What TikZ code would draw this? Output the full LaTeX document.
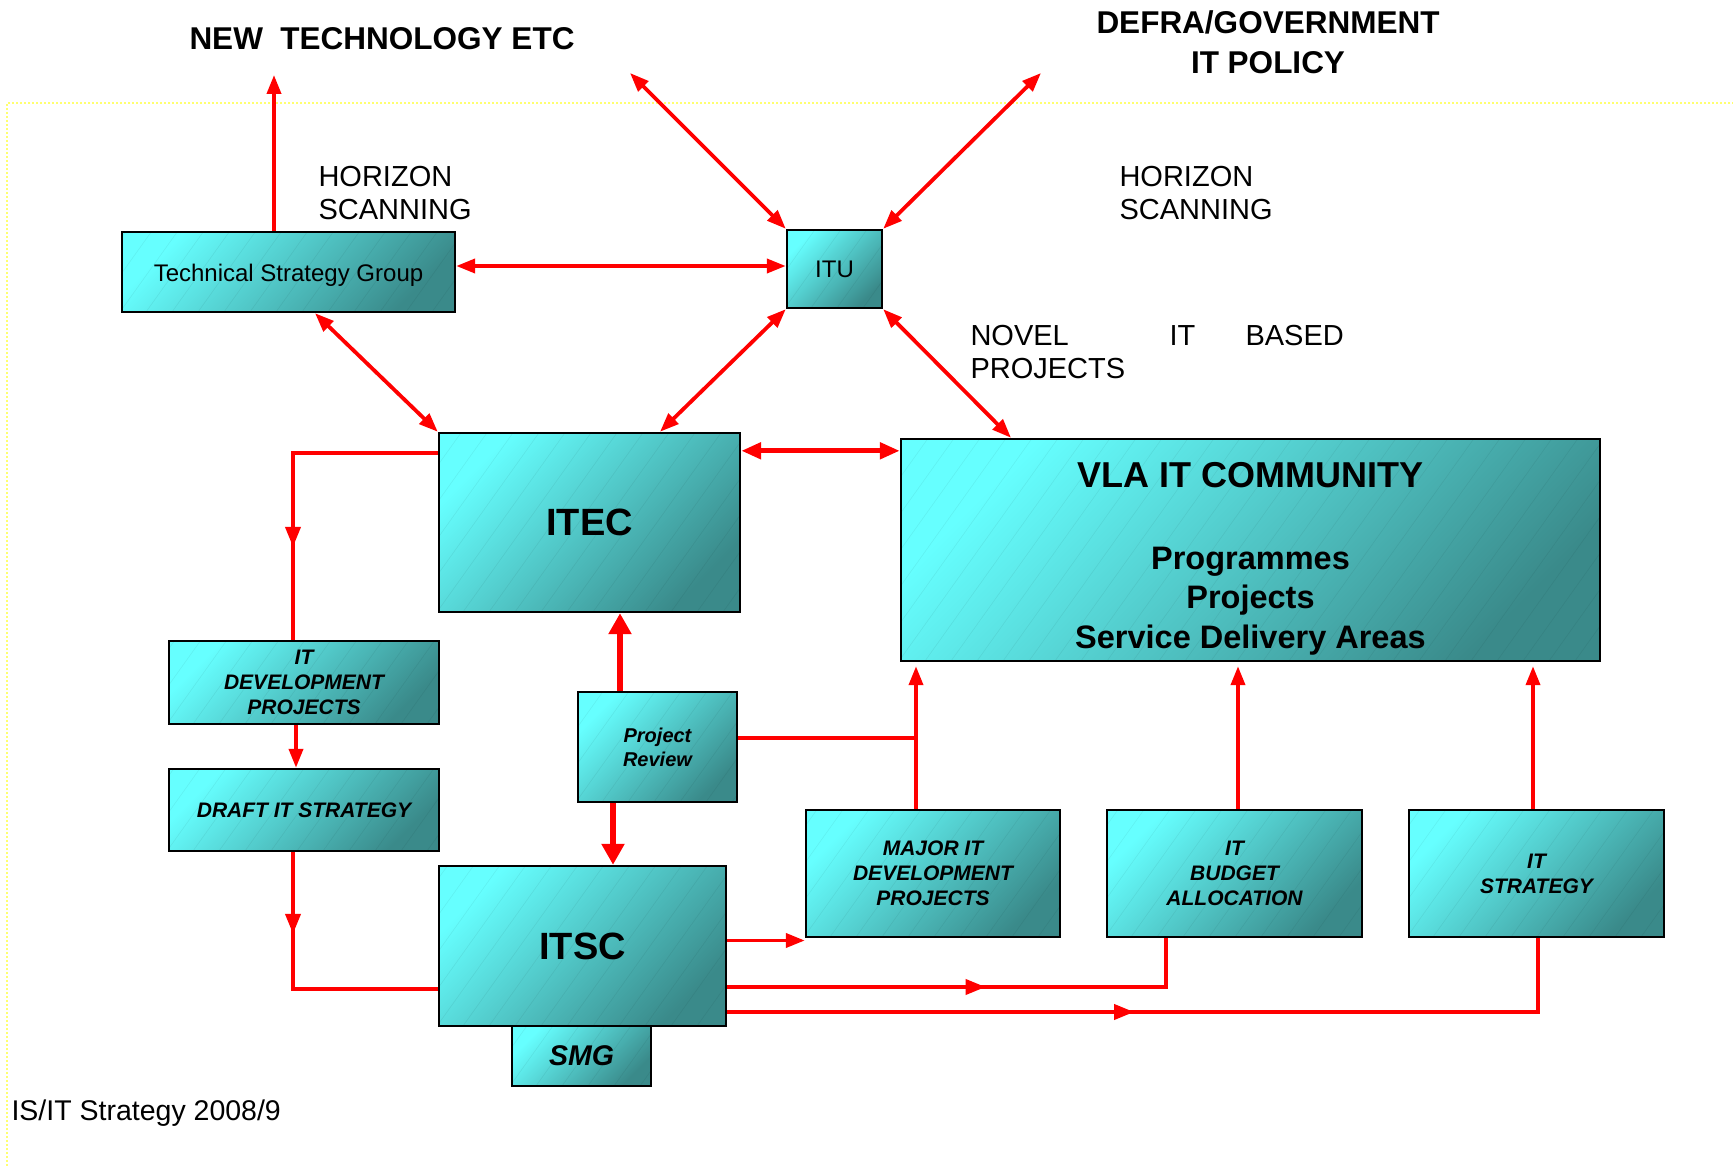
\documentclass[tikz,border=0pt]{standalone}
\usepackage{fontspec}
\setmainfont{Liberation Sans}
\usetikzlibrary{arrows.meta,decorations.markings,calc}
\definecolor{cyanlt}{HTML}{66FFFF}
\definecolor{tealdk}{HTML}{3A8A8A}
\definecolor{ylw}{HTML}{FFFF70}
\begin{document}
\begin{tikzpicture}[x=1pt,y=1pt,
  >={Triangle[length=19pt,width=14pt]},
  hatch/.style={path picture={
    \foreach \k in {0,1,...,60}{
      \draw[black, opacity=0.06, line width=0.6pt]
        ([xshift=\k*26pt-600pt]path picture bounding box.south west) -- ++(500pt,700pt);
    }}},
  box/.style={draw=black, line width=2.4pt, top color=cyanlt, bottom color=tealdk,
    shading angle=45, inner sep=0pt, align=center, hatch},
  bi/.style={font=\fontsize{21}{25}\selectfont\bfseries\itshape},
  big/.style={font=\fontsize{38}{44}\selectfont\bfseries},
  title/.style={font=\fontsize{31.5}{40}\selectfont\bfseries, align=center},
  plain/.style={font=\fontsize{29}{33}\selectfont, align=left},
  rl/.style={draw=red, color=red, line width=3.8pt},
  ra/.style={rl, ->},
  rda/.style={rl, <->},
  rmid/.style={draw=red, color=red, line width=5pt,
    {Triangle[length=20pt,width=16pt]}-{Triangle[length=20pt,width=16pt]}},
  rt/.style={draw=red, color=red, line width=6pt, -{Triangle[length=21pt,width=22pt]}},
  midarr/.style={postaction={decorate}, decoration={markings,
    mark=at position #1 with {\arrow{Triangle[length=20pt,width=15pt]}}}}
]
\useasboundingbox (0,0) rectangle (1733,-1166);
\fill[white] (0,0) rectangle (1733,-1166);

% yellow dotted frame
\draw[ylw, dotted, line width=2pt] (7,-1166) -- (7,-103) -- (1733,-103);

% free texts
\node[title] (newtech) at (382,-39) {NEW~~TECHNOLOGY ETC};
\node[title] (defra) at (1268,-42) {DEFRA/GOVERNMENT\\IT POLICY};
\node[plain, anchor=west] (hz1) at (315,-193.5) {HORIZON\\SCANNING};
\node[plain, anchor=west] (hz2) at (1116,-193.5) {HORIZON\\SCANNING};
\node[plain, anchor=west] (novel) at (967,-352.5)
  {\makebox[199pt][l]{NOVEL}\makebox[76pt][l]{IT}BASED\\PROJECTS};
\node[font=\fontsize{28.5}{33}\selectfont, anchor=west] (footer) at (8,-1113) {IS/IT Strategy 2008/9};

% boxes
\node[box, minimum width=333pt, minimum height=80pt, font=\fontsize{24}{29}\selectfont]
  (tsg) at (288.5,-272) {\raisebox{-9.6pt}[0pt][0pt]{Technical Strategy Group}};
\node[box, minimum width=95pt, minimum height=78pt, font=\fontsize{24}{29}\selectfont]
  (itu) at (834.5,-269) {ITU};
\node[box, big, minimum width=301pt, minimum height=179pt] (itec) at (589.5,-522.5) {ITEC};
\node[box, minimum width=699pt, minimum height=222pt] (vla) at (1250.5,-550) {};
\node[font=\fontsize{36}{40}\selectfont\bfseries] (vlatitle) at (1250.5,-475) {VLA IT COMMUNITY};
\node[font=\fontsize{32.5}{39.5}\selectfont\bfseries, align=center] (vlatxt) at (1250.5,-601)
  {Programmes\\Projects\\Service Delivery Areas};
\node[box, bi, minimum width=270pt, minimum height=83pt] (itdev) at (304,-682.5)
  {IT\\DEVELOPMENT\\PROJECTS};
\node[box, bi, minimum width=270pt, minimum height=82pt] (draft) at (304,-810)
  {DRAFT IT STRATEGY};
\node[box, font=\fontsize{20}{24}\selectfont\bfseries\itshape, minimum width=159pt, minimum height=110pt]
  (pr) at (657.5,-747) {Project\\Review};
\node[box, big, minimum width=287pt, minimum height=160pt] (itsc) at (582.5,-946) {ITSC};
\node[box, font=\fontsize{28.5}{33}\selectfont\bfseries\itshape, minimum width=139pt, minimum height=60pt]
  (smg) at (581.5,-1056) {SMG};
\node[box, bi, minimum width=254pt, minimum height=127pt] (major) at (933,-873.5)
  {MAJOR IT\\DEVELOPMENT\\PROJECTS};
\node[box, bi, minimum width=255pt, minimum height=127pt] (budget) at (1234.5,-873.5)
  {IT\\BUDGET\\ALLOCATION};
\node[box, bi, minimum width=255pt, minimum height=127pt] (strat) at (1536.5,-873.5)
  {IT\\STRATEGY};

% free ends
\coordinate (ntech) at (274,-75);
\coordinate (ntl) at (630,-73);
\coordinate (ntr) at (1041,-73);
\coordinate (mjtop) at ([xshift=-17pt]major.north);

% connectors
\draw[ra] (tsg.north -| ntech) -- (ntech);
\draw[rda] (itu.north west) -- (ntl);
\draw[rda] (itu.north east) -- (ntr);
\draw[rda] ([yshift=6pt]tsg.east) -- ([yshift=6pt]tsg.east -| itu.west);
\draw[rda] ([xshift=26.5pt]tsg.south) -- (itec.north west);
\draw[rda] (itu.south west) -- ([xshift=70.5pt]itec.north);
\draw[rda] (itu.south east) -- ([xshift=-239.5pt]vla.north);
\draw[rmid] ([yshift=-19pt]itec.north east) -- ([yshift=-19pt]itec.north east -| vla.west);

\draw[rl, midarr=0.72] ([yshift=-21pt]itec.north west) -| ([xshift=-11pt]itdev.north);
\draw[ra] ([xshift=-8pt]itdev.south) -- ([xshift=-8pt]draft.north);
\draw[rl, midarr=0.29] ([xshift=-11pt]draft.south) |- ([yshift=-43pt]itsc.west);

\draw[rt] ([xshift=-37.5pt]pr.north) -- ([xshift=-37.5pt]pr.north |- itec.south);
\draw[rt] ([xshift=-44.5pt]pr.south) -- ([xshift=-44.5pt]pr.south |- itsc.north);

\draw[rl] ([yshift=9pt]pr.east) -- ([yshift=9pt]pr.east -| mjtop);
\draw[ra, shorten >=4pt] (mjtop) -- (mjtop |- vla.south);
\draw[ra, shorten >=4pt] ([xshift=3.5pt]budget.north) -- ([xshift=3.5pt]budget.north |- vla.south);
\draw[ra, shorten >=4pt] ([xshift=-3.5pt]strat.north) -- ([xshift=-3.5pt]strat.north |- vla.south);

\draw[ra] ([yshift=5.5pt]itsc.east) -- ([yshift=5.5pt]itsc.east -| major.west);
\draw[rl, midarr=0.53] ([yshift=-41pt]itsc.east) -| ([xshift=-68.5pt]budget.south);
\draw[rl, midarr=0.46] ([yshift=-66pt]itsc.east) -| ([xshift=1.5pt]strat.south);
\end{tikzpicture}
\end{document}
